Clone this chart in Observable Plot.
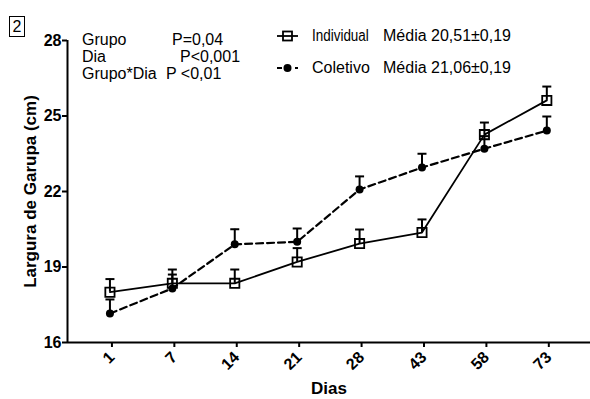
<!DOCTYPE html>
<html>
<head>
<meta charset="utf-8">
<script src="https://cdn.jsdelivr.net/npm/d3@7"></script>
<script src="https://cdn.jsdelivr.net/npm/@observablehq/plot@0.6"></script>
<style>
  body { margin: 0; background: #fff; }
  #wrap { position: relative; width: 590px; height: 399px; font-family: "Liberation Sans", Arial, sans-serif; color: #000; }
  #wrap svg text { fill: #000; }
  [aria-label="y-axis tick label"] text, [aria-label="x-axis tick label"] text { font-weight: bold; }
  .t { position: absolute; font-size: 16px; line-height: 18px; white-space: nowrap; }
  .box { position: absolute; left: 9px; top: 16px; width: 14px; height: 19px; border: 1.5px solid #000; font-size: 16px; line-height: 19px; text-align: center; }
</style>
</head>
<body>
<div id="wrap"></div>
<script>
const days = ["1", "7", "14", "21", "28", "43", "58", "73"];
const individual = [18.0, 18.35, 18.35, 19.2, 19.93, 20.37, 24.26, 25.62];
const individualSE = [0.52, 0.55, 0.55, 0.55, 0.56, 0.52, 0.48, 0.55];
const coletivo = [17.15, 18.15, 19.9, 20.0, 22.08, 22.95, 23.7, 24.42];
const coletivoSE = [0.56, 0.55, 0.6, 0.53, 0.52, 0.55, 0.5, 0.56];
const yTicks = [16, 19, 22, 25, 28];
const xDomain = [-0.68, 7.7];
const yDomain = [16, 28];

const ind = days.map((d, i) => ({i, v: individual[i], se: individualSE[i]}));
const col = days.map((d, i) => ({i, v: coletivo[i], se: coletivoSE[i]}));

const cap = {draw(ctx, size) { const w = Math.sqrt(size / Math.PI); ctx.moveTo(-w, 0); ctx.lineTo(w, 0); }};

const plot = Plot.plot({
  width: 590, height: 399,
  marginLeft: 67, marginRight: 0, marginTop: 40, marginBottom: 57,
  style: {fontFamily: "Liberation Sans, Arial, sans-serif", fontSize: "16px", background: "#fff", color: "#000"},
  x: {domain: xDomain},
  y: {domain: yDomain},
  marks: [
    Plot.axisY({ticks: yTicks, tickSize: 5, tickPadding: 1, strokeWidth: 2, fontSize: 16, fontWeight: "bold", label: null}),
    Plot.axisX({ticks: d3.range(days.length), tickFormat: i => days[i], tickRotate: -45, tickSize: 5, tickPadding: 7, dx: 2, strokeWidth: 2, fontSize: 16, fontWeight: "bold", label: null}),
    Plot.ruleY([yDomain[0]], {stroke: "#000", strokeWidth: 2}),
    Plot.ruleX([xDomain[0]], {y1: yDomain[0], y2: yDomain[1], stroke: "#000", strokeWidth: 2}),
    Plot.text(["Dias"], {frameAnchor: "bottom", dy: 51, fontWeight: "bold", fontSize: 17}),
    Plot.text(["Largura de Garupa (cm)"], {frameAnchor: "left", textAnchor: "middle", dx: -37, rotate: -90, fontWeight: "bold", fontSize: 17}),
    // error bars
    Plot.ruleX(ind, {x: "i", y1: "v", y2: d => d.v + d.se, stroke: "#000", strokeWidth: 2}),
    Plot.ruleX(col, {x: "i", y1: "v", y2: d => d.v + d.se, stroke: "#000", strokeWidth: 2}),
    Plot.dot(ind, {x: "i", y: d => d.v + d.se, symbol: cap, r: 4.5, stroke: "#000", fill: "none", strokeWidth: 2}),
    Plot.dot(col, {x: "i", y: d => d.v + d.se, symbol: cap, r: 4.5, stroke: "#000", fill: "none", strokeWidth: 2}),
    // lines
    Plot.line(ind, {x: "i", y: "v", stroke: "#000", strokeWidth: 1.8}),
    Plot.line(col, {x: "i", y: "v", stroke: "#000", strokeWidth: 2.2, strokeDasharray: "7,4"}),
    // markers
    Plot.dot(ind, {x: "i", y: "v", symbol: "square", r: 5.2, stroke: "#000", fill: "none", strokeWidth: 1.8}),
    Plot.dot(col, {x: "i", y: "v", r: 4, fill: "#000", stroke: "none"})
  ]
});

const wrap = document.getElementById("wrap");
wrap.appendChild(plot);

const overlay = `
<div class="box">2</div>
<div class="t" style="left:82px;top:31px">Grupo</div>
<div class="t" style="left:172px;top:31px">P=0,04</div>
<div class="t" style="left:82px;top:48px">Dia</div>
<div class="t" style="left:180px;top:48px">P&lt;0,001</div>
<div class="t" style="left:82px;top:65px">Grupo*Dia</div>
<div class="t" style="left:166px;top:65px">P &lt;0,01</div>
<svg style="position:absolute;left:276px;top:28px" width="24" height="48">
  <line x1="1" y1="8" x2="22" y2="8" stroke="#000" stroke-width="1.8"/>
  <rect x="7" y="3.5" width="9" height="9" fill="none" stroke="#000" stroke-width="1.8"/>
  <line x1="1" y1="40" x2="22" y2="40" stroke="#000" stroke-width="2.2" stroke-dasharray="5,4"/>
  <circle cx="11.5" cy="40" r="4" fill="#000"/>
</svg>
<div class="t" style="left:312px;top:27px;transform:scaleX(0.84);transform-origin:0 50%">Individual</div>
<div class="t" style="left:383px;top:27px">Média 20,51±0,19</div>
<div class="t" style="left:312px;top:59px">Coletivo</div>
<div class="t" style="left:383px;top:59px">Média 21,06±0,19</div>
`;
wrap.insertAdjacentHTML("beforeend", overlay);
</script>
</body>
</html>
